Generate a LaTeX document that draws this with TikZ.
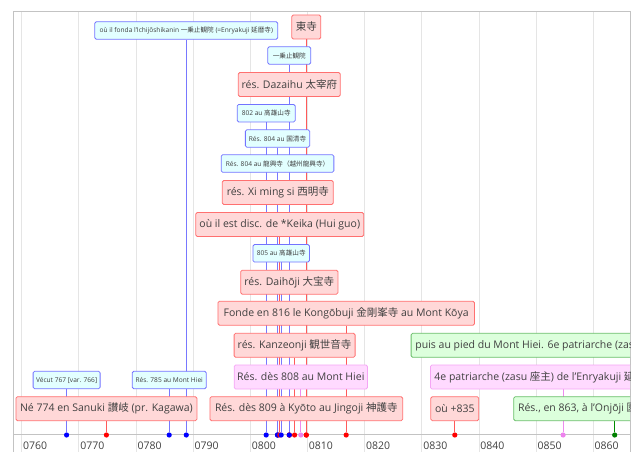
\documentclass[tikz,border=0pt]{standalone}
\usepackage{fontspec}
\setmainfont{Open Sans}
\newfontfamily\jp{Noto Sans CJK JP}

\definecolor{fR}{RGB}{255,216,216}
\definecolor{bR}{RGB}{255,112,112}
\definecolor{lR}{RGB}{255,90,90}
\definecolor{dR}{RGB}{255,0,0}
\definecolor{fB}{RGB}{226,255,255}
\definecolor{bB}{RGB}{115,115,255}
\definecolor{lB}{RGB}{120,120,255}
\definecolor{dB}{RGB}{0,0,255}
\definecolor{fV}{RGB}{255,218,255}
\definecolor{bV}{RGB}{245,165,245}
\definecolor{lV}{RGB}{238,140,238}
\definecolor{dV}{RGB}{238,130,238}
\definecolor{fG}{RGB}{220,255,220}
\definecolor{bG}{RGB}{105,190,105}
\definecolor{lG}{RGB}{0,140,0}
\definecolor{dG}{RGB}{0,128,0}
\definecolor{gridgray}{RGB}{229,229,229}
\definecolor{framegray}{RGB}{195,195,195}

\pgfdeclarelayer{grid}
\pgfdeclarelayer{links}
\pgfsetlayers{grid,links,main}

\tikzset{
  item/.style={draw, rounded corners=1.5pt, line width=0.8pt, inner sep=0pt, text=black!75},
  big/.style={item, font=\fontsize{10.5}{12}\selectfont, minimum height=24pt},
  small/.style={item, font=\fontsize{6.6}{8}\selectfont, minimum height=17.5pt},
  kukai/.style={draw=bR, fill=fR},
  saicho/.style={draw=bB, fill=fB},
  violet/.style={draw=bV, fill=fV},
  green/.style={draw=bG, fill=fG},
  link/.style={draw=#1, line width=0.8pt},
  dot/.style={circle, fill=#1, inner sep=0pt, minimum size=5.2pt},
  gridline/.style={draw=gridgray, line width=0.8pt},
  frame/.style={draw=framegray, line width=0.8pt},
  tick/.style={inner sep=0pt, text=black!75},
}

\begin{document}
\begin{tikzpicture}[x=1pt, y=-1pt, line join=round, line cap=round, font=\fontsize{10.5}{12}\selectfont]
\useasboundingbox (0,0) rectangle (640,452);
\coordinate (axe) at (0,435);

% grille et axe des annees
\begin{pgfonlayer}{grid}
\foreach \k [evaluate=\k as \yr using int(760+10*\k)] in {0,...,10} {
  \draw[gridline] (21.7+57.15*\k,11) -- (21.7+57.15*\k,452);
  \node[tick, anchor=west] (tick\k) at (23+57.15*\k,446) {0\yr};
}
\draw[frame] (13,452) -- (13,11) -- (630,11) -- (630,452);
\draw[frame] (13,434) -- (630,434);
\end{pgfonlayer}

\begin{scope}
\clip (13,11) rectangle (630,452);
% Saicho
\node[small, saicho, minimum width=183pt] (fonda) at (186.3,30.5) {où il fonda l'Ichijōshikanin {\jp 一乗止観院} (=Enryakuji {\jp 延暦寺})};
\node[small, saicho, minimum width=43pt] (ichijo) at (289.3,55.5) {\jp 一乗止観院};
\node[small, saicho, minimum width=58pt] (takaoA) at (266.2,113.2) {802 au {\jp 高雄山寺}};
\node[small, saicho, minimum width=64.3pt] (kokusei) at (277.5,138.5) {Rés. 804 au {\jp 国清寺}};
\node[small, saicho, minimum width=112.7pt] (ryuko) at (277.5,163.5) {Rés. 804 au {\jp 龍興寺（越州龍興寺）}};
\node[small, saicho, minimum width=56.6pt] (takaoB) at (281.2,253.3) {805 au {\jp 高雄山寺}};
\node[small, saicho, minimum width=67pt] (vecut) at (66.6,380) {Vécut 767 [var. 766]};
\node[small, saicho, minimum width=74pt] (hiei785) at (169.2,380) {Rés. 785 au Mont Hiei};
% Kukai
\node[big, kukai, minimum width=29pt] (toji) at (306.3,27) {\jp 東寺};
\node[big, kukai, minimum width=102pt] (dazaihu) at (289.3,84.5) {rés. Dazaihu {\jp 太宰府}};
\node[big, kukai, minimum width=111pt] (ximing) at (277.8,192.5) {rés. Xi ming si {\jp 西明寺}};
\node[big, kukai, minimum width=168pt] (keika) at (279.8,224.5) {où il est disc. de *Keika (Hui guo)};
\node[big, kukai, minimum width=97.3pt] (daihoji) at (289.3,282.2) {rés. Daihōji {\jp 大宝寺}};
\node[big, kukai, minimum width=256.6pt] (koya) at (346.2,313.2) {Fonde en 816 le Kongōbuji {\jp 金剛峯寺} au Mont Kōya};
\node[big, kukai, minimum width=121pt] (kanzeon) at (294.6,345.3) {rés. Kanzeonji {\jp 観世音寺}};
\node[big, kukai, minimum width=192.7pt] (jingoji) at (306.3,408.7) {Rés. dès 809 à Kyōto au Jingoji {\jp 神護寺}};
\node[big, kukai, minimum width=48pt] (mort) at (454.8,408.7) {où +835};
\node[big, kukai, minimum width=181pt] (naissance) at (106.4,408.7) {Né 774 en Sanuki {\jp 讃岐} (pr. Kagawa)};
% autres
\node[big, violet, minimum width=133.3pt] (hiei808) at (300.8,377) {Rés. dès 808 au Mont Hiei};
\node[big, green, anchor=west] (zasuA) at (410.7,345.3) {\makebox[290pt][l]{\hspace{4.3pt}puis au pied du Mont Hiei. 6e patriarche (zasu {\jp 座主})}};
\node[big, violet, anchor=west] (zasuB) at (430,377) {\makebox[265.4pt][l]{\hspace{4pt}4e patriarche (zasu {\jp 座主}) de l'Enryakuji {\jp 延暦寺}}};
\node[big, green, anchor=west] (onjoji) at (513.3,408.7) {\makebox[202pt][l]{\hspace{4.4pt}Rés., en 863, à l'Onjōji {\jp 園城寺}}};

% points sur l'axe et traits
\foreach \n/\d/\l in {vecut/dB/lB, naissance/dR/lR, hiei785/dB/lB, fonda/dB/lB, takaoA/dB/lB,
    ximing/dR/lR, kokusei/dB/lB, ryuko/dB/lB, keika/dR/lR, takaoB/dB/lB, dazaihu/dR/lR,
    daihoji/dR/lR, ichijo/dB/lB, kanzeon/dR/lR, hiei808/dV/lV, toji/dR/lR, jingoji/dR/lR,
    koya/dR/lR, mort/dR/lR, zasuB/dV/lV, onjoji/dG/lG} {
  \node[dot=\d] (d\n) at (\n |- axe) {};
  \begin{pgfonlayer}{links}
  \draw[link=\l] (\n) -- (d\n);
  \end{pgfonlayer}
}
\end{scope}
\end{tikzpicture}
\end{document}
